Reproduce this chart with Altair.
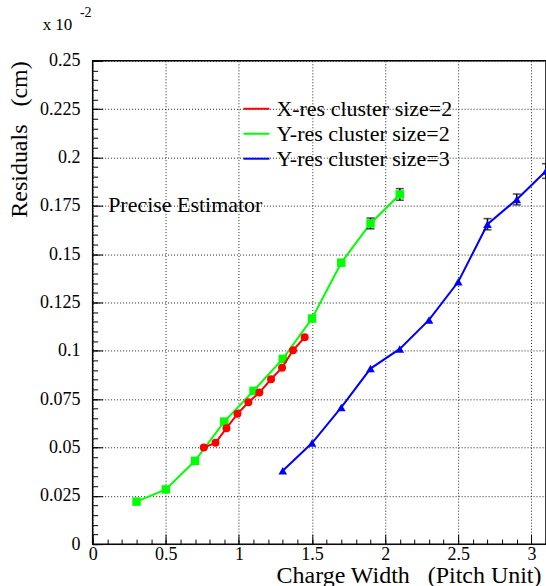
import altair as alt
import pandas as pd

FONT = "'Liberation Serif', 'Times New Roman', 'DejaVu Serif', serif"

# ---------------- data ----------------
series_names = ["X-res cluster size=2", "Y-res cluster size=2", "Y-res cluster size=3"]
series_colors = ["#ff0000", "#00ff00", "#0000ff"]

# X-res cluster size=2 (red circles)
xres2_x = [0.76, 0.84, 0.915, 0.99, 1.065, 1.14, 1.22, 1.295, 1.37, 1.45]
xres2_y = [0.0500, 0.0524, 0.0600, 0.0674, 0.0734, 0.0784, 0.0853, 0.0913, 0.1003, 0.1070]
xres2_err = [0, 0, 0, 0, 0, 0, 0, 0, 0, 0]

# Y-res cluster size=2 (green squares)
yres2_x = [0.3, 0.5, 0.7, 0.9, 1.1, 1.3, 1.5, 1.7, 1.9, 2.1]
yres2_y = [0.0220, 0.0283, 0.0431, 0.0634, 0.0793, 0.0958, 0.1167, 0.1456, 0.1659, 0.1809]
yres2_err = [0, 0, 0, 0, 0, 0, 0, 0, 0.0028, 0.0030]

# Y-res cluster size=3 (blue triangles)
yres3_x = [1.3, 1.5, 1.7, 1.9, 2.1, 2.3, 2.5, 2.7, 2.9, 3.1]
yres3_y = [0.0380, 0.0523, 0.0707, 0.0908, 0.1010, 0.1160, 0.1357, 0.1655, 0.1783, 0.1930]
yres3_err = [0, 0, 0, 0, 0, 0, 0, 0.0029, 0.0028, 0.0038]

x_major_ticks = [0, 0.5, 1, 1.5, 2, 2.5, 3]
y_major_ticks = [0, 0.025, 0.05, 0.075, 0.1, 0.125, 0.15, 0.175, 0.2, 0.225, 0.25]
x_minor_ticks = [round(i * 0.1, 1) for i in range(32)]
y_minor_ticks = [round(i * 0.005, 3) for i in range(51)]

x_title = "Charge Width\u00a0\u00a0\u00a0(Pitch Unit)"
y_title = "Residuals\u00a0\u00a0\u00a0(cm)"
annotation = ["Precise Estimator"]
exponent_base = ["x 10"]
exponent_power = ["-2"]

W, H = 454, 484
PAD_L, PAD_T = 92.8, 60.5


def make_df(xs, ys, errs, name):
    return pd.DataFrame({"x": xs, "y": ys, "err": errs, "series": name})


df_red = make_df(xres2_x, xres2_y, xres2_err, series_names[0])
df_green = make_df(yres2_x, yres2_y, yres2_err, series_names[1])
df_blue = make_df(yres3_x, yres3_y, yres3_err, series_names[2])

xs = alt.Scale(domain=[0, 3.1], nice=False, zero=False)
ys = alt.Scale(domain=[0, 0.25], nice=False, zero=False)
cs = alt.Scale(domain=series_names, range=series_colors)

legend = alt.Legend(
    orient="none", legendX=150, legendY=34, title=None,
    symbolType="stroke", symbolSize=676, symbolStrokeWidth=2,
    labelFont=FONT, labelFontSize=22, labelColor="black", labelOffset=6,
    labelLimit=0, rowPadding=0, padding=0,
)

x_major_axis = alt.Axis(
    orient="bottom", values=x_major_ticks, format=".2~g", tickSize=10, offset=-10,
    domain=False, grid=True, gridDash=[1, 2], gridColor="#222", gridWidth=1,
    tickColor="black", tickWidth=1, labelFont=FONT, labelFontSize=18,
    labelColor="black", labelPadding=10.5, labelBaseline="middle",
    labelFlush=False, labelOverlap=False, labelBound=False,
    title=x_title, titleFont=FONT, titleFontSize=24, titleFontWeight="normal",
    titleColor="black", titleAnchor="end", titleAlign="right",
    titleBaseline="alphabetic", titleX=449, titleY=48.5,
)
y_major_axis = alt.Axis(
    orient="left", values=y_major_ticks, format=".3~g", tickSize=10, offset=-10,
    domain=False, grid=True, gridDash=[1, 2], gridColor="#222", gridWidth=1,
    tickColor="black", tickWidth=1, labelFont=FONT, labelFontSize=18,
    labelColor="black", labelPadding=12.8, labelBaseline="middle",
    labelFlush=False, labelOverlap=False, labelBound=False,
    title=y_title, titleFont=FONT, titleFontSize=24, titleFontWeight="normal",
    titleColor="black", titleAnchor="end", titleAlign="right", titleAngle=270,
    titleBaseline="middle", titleX=-82.8, titleY=0,
)
x_minor_axis = alt.Axis(
    orient="bottom", values=x_minor_ticks, tickSize=5, offset=-5, domain=False,
    grid=False, labels=False, title=None, tickColor="black", tickWidth=1,
)
y_minor_axis = alt.Axis(
    orient="left", values=y_minor_ticks, tickSize=5, offset=-5, domain=False,
    grid=False, labels=False, title=None, tickColor="black", tickWidth=1,
)


def X(axis=None):
    return alt.X("x:Q", scale=xs, axis=axis)


def Y(axis=None):
    return alt.Y("y:Q", scale=ys, axis=axis)


def line_layer(df, xaxis=None, yaxis=None):
    return alt.Chart(df).mark_line(strokeWidth=2).encode(
        x=X(xaxis), y=Y(yaxis),
        color=alt.Color("series:N", scale=cs, legend=legend),
    )


def point_layer(df, shape, color, size):
    return alt.Chart(df).mark_point(shape=shape, filled=True, opacity=1, size=size).encode(
        x=X(), y=Y(), color=alt.value(color)
    )


def err_layers(df):
    base = alt.Chart(df).transform_filter("datum.err > 0").transform_calculate(
        lo="datum.y - datum.err", hi="datum.y + datum.err"
    )
    bar = base.mark_rule(color="black", strokeWidth=1.5).encode(
        x=X(), y=alt.Y("lo:Q", scale=ys, axis=None), y2="hi:Q"
    )
    cap_lo = base.mark_tick(orient="horizontal", color="black", size=8, thickness=1.5).encode(
        x=X(), y=alt.Y("lo:Q", scale=ys, axis=None)
    )
    cap_hi = base.mark_tick(orient="horizontal", color="black", size=8, thickness=1.5).encode(
        x=X(), y=alt.Y("hi:Q", scale=ys, axis=None)
    )
    return [bar, cap_lo, cap_hi]


def text_layer(lines, x, y, size, align="left", baseline="middle"):
    return alt.Chart(pd.DataFrame({"t": lines})).mark_text(
        font=FONT, fontSize=size, color="black", align=align, baseline=baseline
    ).encode(text="t:N", x=alt.value(x), y=alt.value(y))


layers = [
    line_layer(df_green, x_major_axis, y_major_axis),
    *err_layers(df_green),
    point_layer(df_green, "square", series_colors[1], 72),
    line_layer(df_red, x_minor_axis, y_minor_axis),
    point_layer(df_red, "circle", series_colors[0], 64),
    line_layer(df_blue),
    *err_layers(df_blue),
    point_layer(df_blue, "triangle-up", series_colors[2], 75),
    text_layer(annotation, 108.3 - PAD_L, 205 - PAD_T, 22),
    text_layer(exponent_base, 42.7 - PAD_L, 25 - PAD_T, 17),
    text_layer(exponent_power, 80 - PAD_L, 13 - PAD_T, 14),
]

chart = (
    alt.layer(*layers)
    .resolve_axis(x="independent", y="independent")
    .properties(
        width=W, height=H,
        autosize=alt.AutoSizeParams(type="none"),
        padding={"left": PAD_L, "top": PAD_T, "right": 0, "bottom": 586 - PAD_T - H},
        background="white",
    )
    .configure(font=FONT)
    .configure_view(stroke="black", strokeWidth=1.5)
    .configure_axis(labelFont=FONT, titleFont=FONT)
    .configure_legend(labelFont=FONT)
    .configure_text(font=FONT)
)

chart.save("out.html", embed_options={"renderer": "svg", "actions": False})
